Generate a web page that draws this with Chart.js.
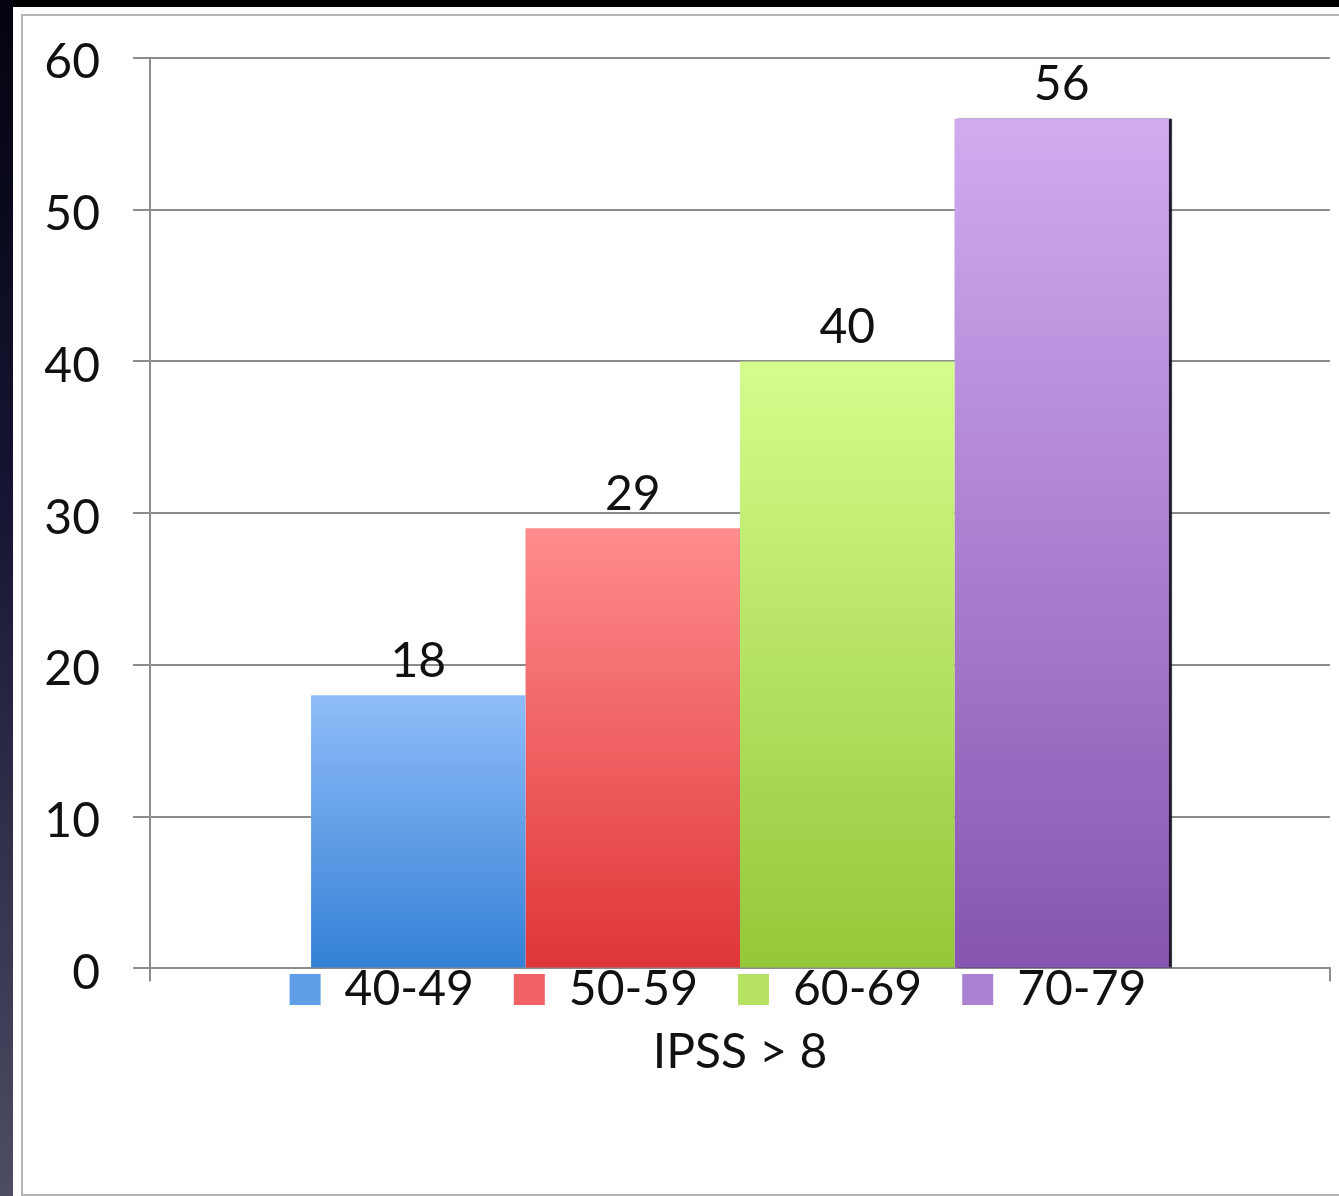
<!DOCTYPE html>
<html>
<head>
<meta charset="utf-8">
<script src="https://cdn.jsdelivr.net/npm/chart.js@4.4.1/dist/chart.umd.min.js"></script>
<style>
  html, body { margin: 0; padding: 0; background: #000; }
  body { width: 1339px; height: 1196px; position: relative; overflow: hidden; }
  .strip { position: absolute; left: 0; top: 0; width: 13px; height: 1196px;
           background: linear-gradient(#03030f, #141432 40%, #4c4c64); }
  .panel { position: absolute; left: 13px; top: 7px; width: 1326px; height: 1189px; background: #fff; }
  .frame { position: absolute; left: 8px; top: 7px; right: -4px; bottom: 0px;
           border: 2px solid #b4b4b4; }
  .chart-box { position: absolute; left: 0; top: 0; width: 1326px; height: 1189px; }
</style>
</head>
<body>
<div class="strip"></div>
<div class="panel">
  <div class="frame"></div>
  <div class="chart-box"><canvas id="chart"></canvas></div>
</div>
<script>
// Data
const groups = ['IPSS > 8'];
const ageBands = ['40-49', '50-59', '60-69', '70-79'];
const percentages = [18, 29, 40, 56];
const yTicks = [0, 10, 20, 30, 40, 50, 60];

// Top / bottom colours of each bar's gradient
const TOP_COLORS = ['#8fbdf9', '#ff8c8c', '#d4fd8c', '#d1abf0'];
const BOTTOM_COLORS = ['#3480d5', '#df3538', '#94c739', '#8656b0'];
const MID_COLORS = ['#5f9ee8', '#f06264', '#b6e264', '#ab82d2'];

const FONT = 'Lato, "Noto Sans", sans-serif';
const FONT_SIZE = 48;

function barGradient(i) {
    return function(ctx) {
        const chart = ctx.chart;
        const y = chart.scales.y;
        if (!chart.chartArea || !y || ctx.raw === undefined) return MID_COLORS[i];
        const top = y.getPixelForValue(ctx.raw);
        const bottom = y.getPixelForValue(0);
        const g = chart.ctx.createLinearGradient(0, top, 0, bottom);
        g.addColorStop(0, TOP_COLORS[i]);
        g.addColorStop(1, BOTTOM_COLORS[i]);
        return g;
    };
}

// value labels above bars + dark edge on the right of the last bar
const barExtras = {
    id: 'barExtras',
    afterLayout(chart) {
        // nudge the legend row a little left of the plot centre
        chart.legend.left -= 22;
        chart.legend.right -= 22;
    },
    beforeDatasetDraw(chart, args) {
        const ctx = chart.ctx;
        ctx.save();
        if (args.index === chart.data.datasets.length - 1) {
            ctx.shadowColor = 'rgba(20,10,30,0.95)';
            ctx.shadowOffsetX = 3;
            ctx.shadowOffsetY = 0;
            ctx.shadowBlur = 1;
        }
    },
    afterDatasetDraw(chart) {
        chart.ctx.restore();
    },
    afterDatasetsDraw(chart) {
        const ctx = chart.ctx;
        ctx.save();
        ctx.font = FONT_SIZE + 'px ' + FONT;
        ctx.fillStyle = '#111';
        ctx.textAlign = 'center';
        ctx.textBaseline = 'bottom';
        chart.data.datasets.forEach((ds, i) => {
            const meta = chart.getDatasetMeta(i);
            meta.data.forEach((bar, j) => {
                ctx.fillText(String(ds.data[j]), bar.x, bar.y - 10);
            });
        });
        ctx.restore();
    }
};

const datasets = ageBands.map((band, i) => ({
    label: band,
    data: [percentages[i]],
    backgroundColor: barGradient(i),
    borderWidth: 0,
    barPercentage: 1,
    categoryPercentage: 0.727
}));

new Chart(document.getElementById('chart'), {
    type: 'bar',
    data: { labels: groups, datasets: datasets },
    plugins: [barExtras],
    options: {
        responsive: true,
        maintainAspectRatio: false,
        animation: false,
        layout: { padding: { left: 0, right: 9, top: 51, bottom: 72 } },
        scales: {
            x: {
                offset: true,
                grid: {
                    offset: true,
                    drawOnChartArea: false,
                    drawTicks: true,
                    tickLength: 13,
                    color: '#8c8c8c',
                    lineWidth: 2
                },
                border: { color: '#8c8c8c', width: 2 },
                ticks: { display: false },
                // legend sits tight under the axis line
                afterFit: s => { s.height = -43; }
            },
            y: {
                min: 0,
                max: 60,
                afterBuildTicks: s => { s.ticks = yTicks.map(v => ({ value: v })); },
                grid: { color: '#8c8c8c', lineWidth: 2, tickLength: 17 },
                border: { color: '#8c8c8c', width: 2 },
                ticks: {
                    color: '#111',
                    padding: 33,
                    labelOffset: 5,
                    font: { family: FONT, size: FONT_SIZE }
                },
                afterFit: s => {
                    s.width = 137;
                    s.paddingTop = 0;
                    s.paddingBottom = 0;
                }
            }
        },
        plugins: {
            legend: {
                position: 'bottom',
                fullSize: false,
                labels: {
                    color: '#111',
                    boxWidth: 31,
                    boxHeight: 31,
                    padding: 40,
                    font: { family: FONT, size: FONT_SIZE },
                    generateLabels(chart) {
                        const items = Chart.defaults.plugins.legend.labels.generateLabels(chart);
                        items.forEach((it, i) => {
                            it.fillStyle = MID_COLORS[i];
                            it.strokeStyle = MID_COLORS[i];
                            it.lineWidth = 0;
                        });
                        return items;
                    }
                }
            },
            title: {
                display: true,
                position: 'bottom',
                fullSize: false,
                text: groups[0],
                color: '#111',
                font: { family: FONT, size: FONT_SIZE, weight: 'normal' },
                padding: { top: 0, bottom: 0 }
            },
            tooltip: { enabled: false }
        }
    }
});
</script>
</body>
</html>
